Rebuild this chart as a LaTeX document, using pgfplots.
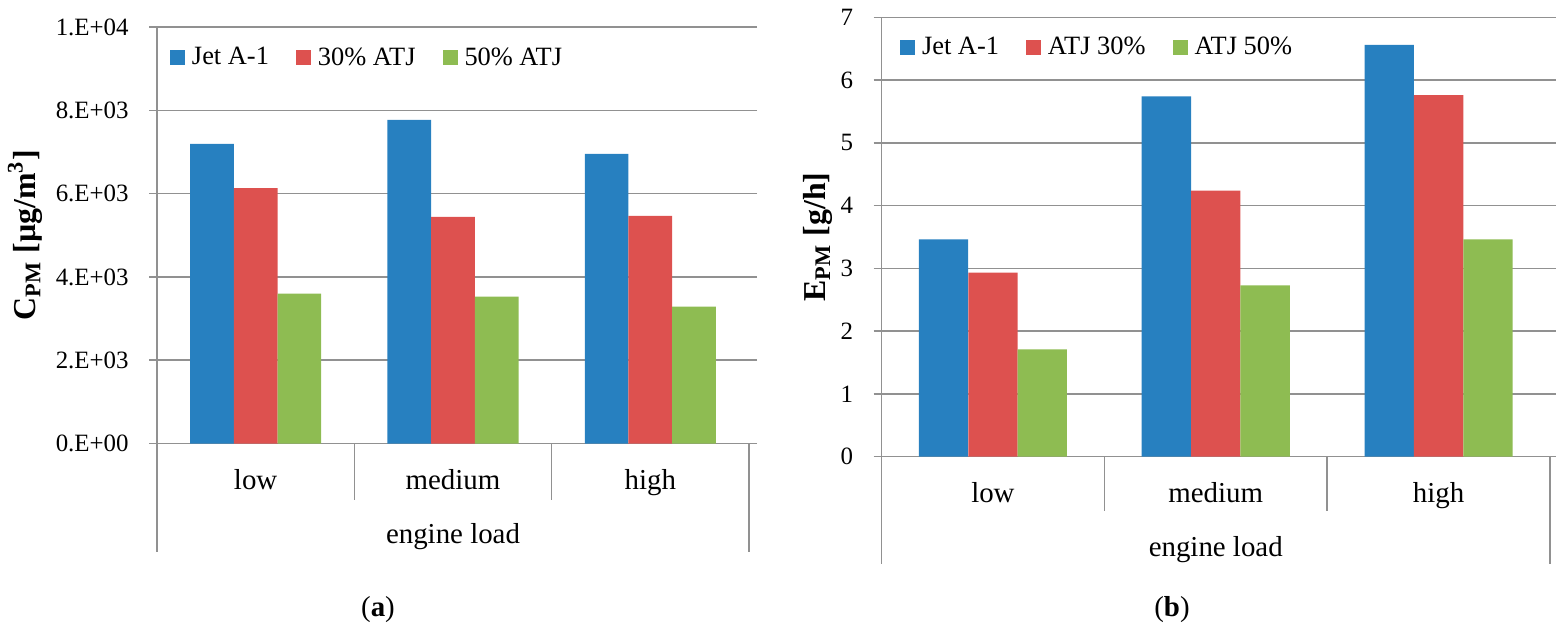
\documentclass[border=0pt]{standalone}
\usepackage{fontspec}
\setmainfont{Liberation Serif}
\newfontfamily\lserif{Liberation Serif}
\usepackage{pgfplots}
\usepackage{pgfplotstable}
\pgfplotsset{compat=1.18}

\definecolor{cblue}{RGB}{39,128,192}
\definecolor{cred}{RGB}{221,81,79}
\definecolor{cgreen}{RGB}{142,188,82}
\definecolor{cgrid}{RGB}{145,145,145}

\pgfplotstableread{
x jet a30 a50
0 7194 6133 3597
1 7772 5439 3529
2 6953 5468 3288
}\tabA
\pgfplotstableread{
x jet a30 a50
0 3.46 2.93 1.71
1 5.74 4.24 2.73
2 6.56 5.76 3.46
}\tabB

\newcommand\tickfont{\lserif\fontsize{12.5}{14}\selectfont}
\newcommand\catfont{\lserif\fontsize{14.5}{16}\selectfont}
\newcommand\legfont{\lserif\fontsize{13.25}{15}\selectfont}
\newcommand\labfont{\lserif\fontsize{16}{18}\selectfont\bfseries}

\pgfplotsset{
  mybar/.style={
    scale only axis,
    ybar=0pt, bar width=0.2215,
    xmin=-0.5, xmax=2.5, ymin=0,
    scaled y ticks=false,
    xtick={0,1,2}, xticklabels={low,medium,high},
    xtick align=inside, ytick align=outside,
    major tick length=4bp,
    x tick style={draw=none},
    y tick style={draw=cgrid, line width=0.75bp},
    ymajorgrids, grid style={cgrid, line width=0.75bp},
    axis line style={draw=none},
    clip=false,
    xticklabel style={font=\catfont, anchor=base, yshift=-22.75bp},
    yticklabel style={font=\tickfont, anchor=east, inner sep=0pt, xshift=-10bp},
    xlabel={engine load},
    legend columns=3,
    legend image code/.code={\fill[##1] (0bp,-3.75bp) rectangle (7.5bp,3.75bp);},
    legend style={draw=none, fill=none, font=\legfont, inner sep=0pt, outer sep=0pt,
      nodes={inner sep=0pt},
      /tikz/every odd column/.append style={column sep=3.5bp},
      /tikz/every even column/.append style={column sep=13.5bp}},
    every axis plot/.append style={draw=none},
  }
}

\begin{document}
\begin{tikzpicture}[font=\lserif]
\useasboundingbox (0,0) rectangle (778bp,-315bp);

% ---------- (a) ----------
\begin{axis}[mybar,
  at={(78.5bp,-221.75bp)}, anchor=south west,
  width=296bp, height=208.25bp,
  ymax=10000,
  ytick={0,2000,4000,6000,8000,10000},
  yticklabels={0.E+00,2.E+03,4.E+03,6.E+03,8.E+03,1.E+04},
  xlabel style={font=\catfont, at={([yshift=-46.5bp]axis description cs:0.5,0)}, anchor=center},
  ylabel={C\textsubscript{PM} [µg/m\textsuperscript{3}]},
  ylabel style={font=\labfont, at={([xshift=-66bp]axis description cs:0,0.5)}, anchor=center},
  legend style={at={(axis description cs:0,1)}, anchor=north west, xshift=6.5bp, yshift=-10.25bp},
]
\addplot[fill=cblue] table[x=x,y=jet] {\tabA};
\addplot[fill=cred] table[x=x,y=a30] {\tabA};
\addplot[fill=cgreen] table[x=x,y=a50] {\tabA};
\legend{Jet A-1,30\% ATJ,50\% ATJ}
\draw[cgrid, line width=0.75bp] (axis cs:-0.5,10000) -- ([yshift=-54.25bp]axis cs:-0.5,0);
\draw[cgrid, line width=0.75bp] (axis cs:2.5,0) -- ([yshift=-54.25bp]axis cs:2.5,0);
\draw[cgrid, line width=0.75bp] (axis cs:0.5,0) -- ([yshift=-28.25bp]axis cs:0.5,0);
\draw[cgrid, line width=0.75bp] (axis cs:1.5,0) -- ([yshift=-28.25bp]axis cs:1.5,0);
\end{axis}

% ---------- (b) ----------
\begin{axis}[mybar,
  at={(440.75bp,-228.3bp)}, anchor=south west,
  width=334.25bp, height=219.65bp,
  ymax=7,
  ytick={0,1,2,3,4,5,6,7},
  yticklabels={0,1,2,3,4,5,6,7},
  xlabel style={font=\catfont, at={([yshift=-46.25bp]axis description cs:0.5,0)}, anchor=center},
  ylabel={E\textsubscript{PM} [g/h]},
  ylabel style={font=\labfont, at={([xshift=-32bp]axis description cs:0,0.5)}, anchor=center},
  legend style={at={(axis description cs:0,1)}, anchor=north west, xshift=9.25bp, yshift=-9.75bp},
]
\addplot[fill=cblue] table[x=x,y=jet] {\tabB};
\addplot[fill=cred] table[x=x,y=a30] {\tabB};
\addplot[fill=cgreen] table[x=x,y=a50] {\tabB};
\legend{Jet A-1,ATJ 30\%,ATJ 50\%}
\draw[cgrid, line width=0.75bp] (axis cs:-0.5,7) -- ([yshift=-53.7bp]axis cs:-0.5,0);
\draw[cgrid, line width=0.75bp] (axis cs:2.5,0) -- ([yshift=-53.7bp]axis cs:2.5,0);
\draw[cgrid, line width=0.75bp] (axis cs:0.5,0) -- ([yshift=-27.2bp]axis cs:0.5,0);
\draw[cgrid, line width=0.75bp] (axis cs:1.5,0) -- ([yshift=-27.2bp]axis cs:1.5,0);
\end{axis}

\node[font=\catfont] at (189bp,-305bp) {(\textbf{a})};
\node[font=\catfont] at (586bp,-305bp) {(\textbf{b})};
\end{tikzpicture}
\end{document}
